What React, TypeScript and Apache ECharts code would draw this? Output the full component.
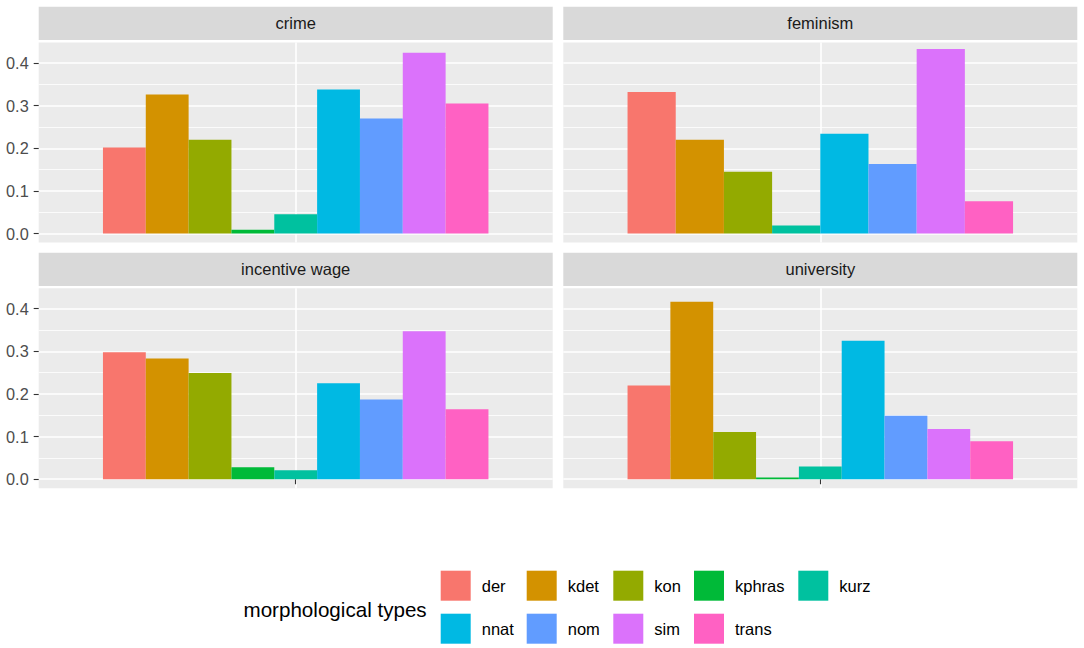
import React, { useEffect, useRef } from 'react';
import * as echarts from 'echarts';

const categories = ['der', 'kdet', 'kon', 'kphras', 'kurz', 'nnat', 'nom', 'sim', 'trans'];
const colors = ['#F8766D', '#D39200', '#93AA00', '#00BA38', '#00C19F', '#00B9E3', '#619CFF', '#DB72FB', '#FF61C3'];
const panels = ['crime', 'feminism', 'incentive wage', 'university'];
const crime = [0.202, 0.326, 0.22, 0.009, 0.045, 0.338, 0.27, 0.424, 0.305];
const feminism = [0.332, 0.22, 0.145, null, 0.019, 0.234, 0.163, 0.433, 0.076];
const incentiveWage = [0.298, 0.283, 0.249, 0.028, 0.021, 0.225, 0.187, 0.347, 0.164];
const university = [0.22, 0.416, 0.111, 0.004, 0.03, 0.325, 0.149, 0.118, 0.089];
const panelValues = [crime, feminism, incentiveWage, university];
const yMajorTicks = [0, 0.1, 0.2, 0.3, 0.4];
const yMinorTicks = [0.05, 0.15, 0.25, 0.35];
const yTickLabels = ['0.0', '0.1', '0.2', '0.3', '0.4'];
const legendTitle = 'morphological types';

const FONT = '"Liberation Sans", Arial, Helvetica, sans-serif';
const PANEL_X = [38.7, 563.3];
const PANEL_W = 514;
const STRIP_TOP = [6.7, 252.7];
const STRIP_H = 33.3;
const PLOT_TOP = [42.5, 288.2];
const PLOT_H = 200;
const Y_MIN = -0.021;
const Y_MAX = 0.448;
const LEG_X = [440.7, 526.7, 613.3, 694, 798.3];
const LEG_Y = [570.7, 613.7];

export default function App() {
  const ref = useRef<HTMLDivElement>(null);
  useEffect(() => {
    if (!ref.current) return;
    const chart = echarts.init(ref.current, null, { renderer: 'svg' });
    const grids: any[] = [];
    const xAxes: any[] = [];
    const yAxes: any[] = [];
    const series: any[] = [];
    const graphics: any[] = [];

    panels.forEach((name, p) => {
      const col = p % 2;
      const row = Math.floor(p / 2);
      const isLeft = col === 0;
      const isBottom = row === 1;
      grids.push({
        left: PANEL_X[col], top: PLOT_TOP[row], width: PANEL_W, height: PLOT_H,
        show: true, backgroundColor: '#EBEBEB', borderWidth: 0, containLabel: false,
      });
      xAxes.push({
        type: 'category', gridIndex: p, data: [''], show: false, boundaryGap: true,
      });
      xAxes.push({
        type: 'value', gridIndex: p, min: 0.4, max: 1.6, position: 'bottom',
        axisLine: { show: false },
        axisLabel: { show: false },
        axisTick: { show: isBottom, customValues: [1], length: 5, lineStyle: { color: '#333333', width: 1.1 } },
        splitLine: { show: true, lineStyle: { color: '#FFFFFF', width: 1.6 } },
      });
      yAxes.push({
        type: 'value', gridIndex: p, min: Y_MIN, max: Y_MAX, position: 'left',
        axisLine: { show: false },
        axisTick: { show: isLeft, customValues: yMajorTicks, length: 5, lineStyle: { color: '#333333', width: 1.1 } },
        axisLabel: {
          show: isLeft, customValues: yMajorTicks, margin: 10, fontSize: 16.3, color: '#4D4D4D', fontFamily: FONT,
          formatter: (v: number) => {
            const i = yMajorTicks.findIndex((t) => Math.abs(t - v) < 1e-9);
            return i >= 0 ? yTickLabels[i] : '';
          },
        },
        splitLine: { show: true, lineStyle: { color: '#FFFFFF', width: 1.6 } },
      });
      yAxes.push({
        type: 'value', gridIndex: p, min: Y_MIN, max: Y_MAX, position: 'left',
        axisLine: { show: false },
        axisTick: { show: false, customValues: yMinorTicks },
        axisLabel: { show: false, customValues: yMinorTicks },
        splitLine: { show: true, lineStyle: { color: '#FFFFFF', width: 0.8 } },
      });
      const vals = panelValues[p];
      categories.forEach((cat, c) => {
        const v = vals[c];
        if (v === null || v === undefined) return;
        series.push({
          type: 'bar', name: cat, xAxisIndex: p * 2, yAxisIndex: p * 2,
          data: [v], barGap: '0%', barCategoryGap: '25%',
          itemStyle: { color: colors[c] }, silent: true,
        });
      });
      graphics.push({
        type: 'rect', shape: { x: PANEL_X[col], y: STRIP_TOP[row], width: PANEL_W, height: STRIP_H },
        style: { fill: '#D9D9D9' }, silent: true,
      });
      graphics.push({
        type: 'text', x: PANEL_X[col] + PANEL_W / 2, y: STRIP_TOP[row] + STRIP_H / 2,
        style: { text: name, fill: '#1A1A1A', fontSize: 16.5, fontFamily: FONT, align: 'center', verticalAlign: 'middle' },
        silent: true,
      });
    });

    graphics.push({
      type: 'text', x: 243.5, y: 609,
      style: { text: legendTitle, fill: '#000000', fontSize: 20.6, fontFamily: FONT, align: 'left', verticalAlign: 'middle' },
      silent: true,
    });

    const legends = categories.map((cat, i) => ({
      data: [cat],
      left: LEG_X[i % 5],
      top: LEG_Y[Math.floor(i / 5)],
      padding: 0,
      icon: 'rect',
      itemWidth: 30,
      itemHeight: 30,
      selectedMode: false,
      textStyle: { fontSize: 16.5, color: '#000000', fontFamily: FONT, padding: [0, 0, 0, 6] },
    }));

    chart.setOption({
      animation: false,
      backgroundColor: '#FFFFFF',
      textStyle: { fontFamily: FONT },
      grid: grids,
      xAxis: xAxes,
      yAxis: yAxes,
      series,
      legend: legends,
      graphic: graphics,
    });
    return () => chart.dispose();
  }, []);
  return <div ref={ref} style={{ position: 'fixed', left: 0, top: 0, width: 1084, height: 648 }} />;
}
